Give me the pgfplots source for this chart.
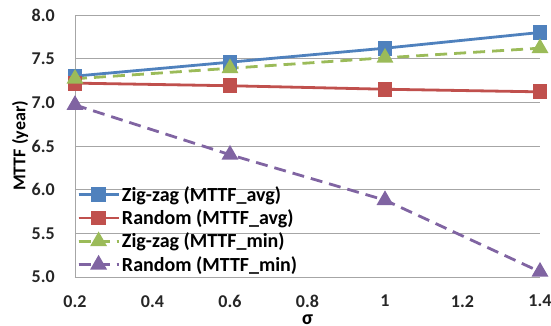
\documentclass[border=0pt]{standalone}
\usepackage{pgfplots}
\pgfplotsset{compat=1.18}
\usepackage{fontspec}
\setmainfont{Carlito}
\definecolor{cblue}{HTML}{4F81BD}
\definecolor{cred}{HTML}{C0504D}
\definecolor{cgreen}{HTML}{9BBB59}
\definecolor{cpurple}{HTML}{8064A2}
\begin{document}
\begin{tikzpicture}
\useasboundingbox (-75pt,-49pt) rectangle (476pt,277pt);
\begin{axis}[
  scale only axis, width=465pt, height=262pt,
  xmin=0.2, xmax=1.4, ymin=5, ymax=8,
  xtick={0.2,0.4,...,1.4}, ytick={5,5.5,...,8},
  /pgf/number format/assume math mode=true,
  xticklabels={0.2,0.4,0.6,0.8,1,1.2,1.4},
  yticklabels={5.0,5.5,6.0,6.5,7.0,7.5,8.0},
  tick label style={font=\bfseries\fontsize{18}{18}\selectfont, text=black!85, inner sep=0pt},
  xticklabel style={yshift=-18pt, text depth=0pt},
  yticklabel style={xshift=-20pt},
  ymajorgrids, major grid style={gray!70, line width=0.8pt},
  axis x line*=bottom, axis y line*=left,
  axis line style={gray!70, line width=0.8pt},
  major tick length=0pt,
  xlabel={\bfseries\fontsize{20}{20}\selectfont σ},
  ylabel={\bfseries\fontsize{18}{18}\selectfont MTTF (year)},
  xlabel style={at={(axis description cs:0.5,0)}, anchor=base, yshift=-47pt, inner sep=0pt},
  ylabel style={at={(axis description cs:-0.118,0.5)}, anchor=center, inner sep=0pt},
  legend style={at={(0,0)}, anchor=south west, xshift=1pt, yshift=2pt, draw=none, fill=none,
    font=\bfseries\fontsize{20}{20}\selectfont, row sep=5pt, inner xsep=1pt, inner ysep=1pt,
    nodes={inner xsep=2pt, inner ysep=1pt}},
  legend cell align=left,
  legend image code/.code={\draw[#1] (0pt,0pt) -- (40pt,0pt); \draw[#1,mark repeat=2,mark phase=2] plot coordinates {(0pt,0pt) (20pt,0pt) (40pt,0pt)};},
  every axis plot/.append style={line width=2.8pt},
]
\addplot[cblue, mark=square*, mark size=6pt, mark options={solid}] coordinates {(0.2,7.30) (0.6,7.46) (1,7.62) (1.4,7.80)};
\addlegendentry{Zig-zag (MTTF\_avg)}
\addplot[cred, mark=square*, mark size=6pt, mark options={solid}] coordinates {(0.2,7.22) (0.6,7.19) (1,7.15) (1.4,7.12)};
\addlegendentry{Random (MTTF\_avg)}
\addplot[cgreen, dash pattern=on 12pt off 7pt, mark=triangle*, mark size=7pt, mark options={solid}] coordinates {(0.2,7.27) (0.6,7.39) (1,7.51) (1.4,7.62)};
\addlegendentry{Zig-zag (MTTF\_min)}
\addplot[cpurple, dash pattern=on 12pt off 7pt, mark=triangle*, mark size=7pt, mark options={solid}] coordinates {(0.2,6.97) (0.6,6.40) (1,5.88) (1.4,5.06)};
\addlegendentry{Random (MTTF\_min)}
\end{axis}
\end{tikzpicture}
\end{document}
